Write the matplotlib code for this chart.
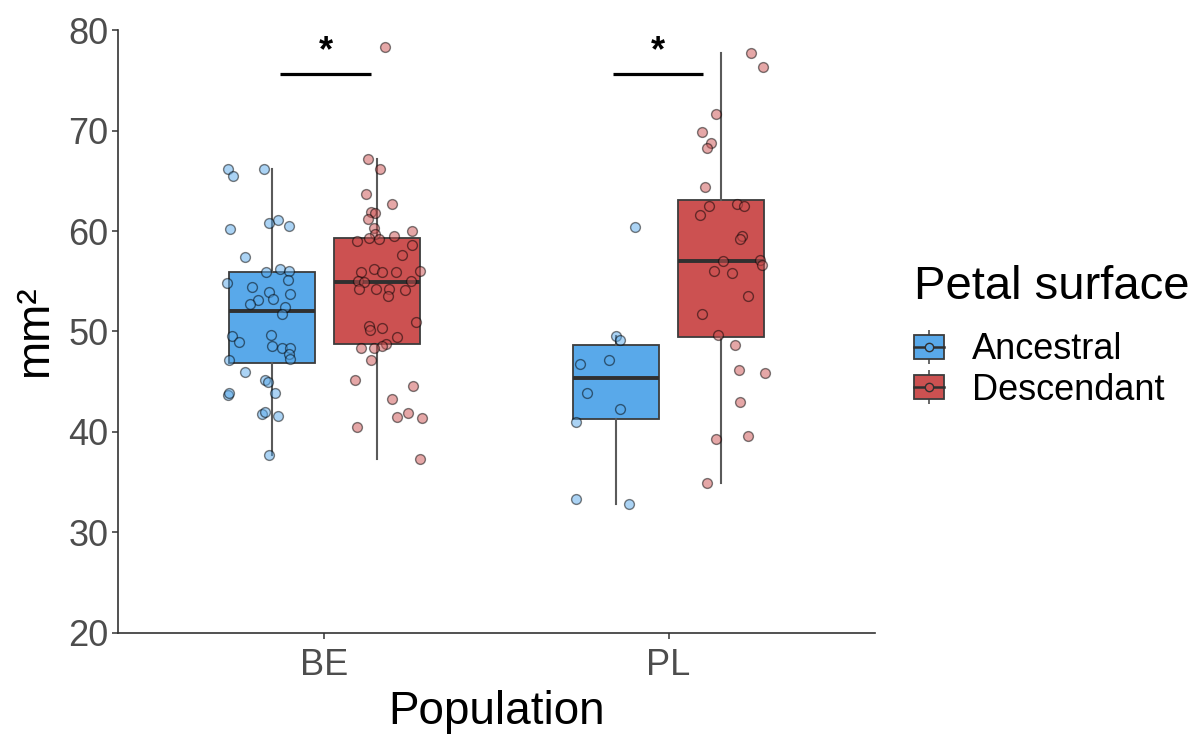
import numpy as np
import matplotlib.pyplot as plt
from matplotlib.patches import Patch
from matplotlib.lines import Line2D
from matplotlib.legend_handler import HandlerTuple

plt.rcParams['font.family'] = ['Liberation Sans', 'DejaVu Sans']

populations = ['BE', 'PL']
groups = ['Ancestral', 'Descendant']
fill_colors = {'Ancestral': '#59A9EA', 'Descendant': '#CC5151'}

# petal surface (mm2), with horizontal jitter of each point
be_anc = [66.2, 65.5, 66.2, 60.8, 61.1, 60.5, 60.2, 57.4, 55.9, 56.2,
          56.0, 55.1, 54.8, 54.4, 53.9, 53.7, 53.1, 53.2, 52.7, 52.4,
          51.7, 49.6, 49.0, 49.7, 48.6, 48.4, 48.4, 47.8, 47.3, 47.2,
          46.0, 45.2, 45.0, 43.7, 43.9, 43.9, 41.8, 42.0, 41.6, 37.7]
be_anc_jit = [-0.127, -0.115, -0.023, -0.009, 0.017, 0.048, -0.121, -0.079, -0.018, 0.023,
              0.049, 0.047, -0.131, -0.059, -0.009, 0.053, -0.040, 0.002, -0.065, 0.038,
              0.028, -0.117, -0.096, -0.003, 0.001, 0.028, 0.053, 0.049, 0.053, -0.125,
              -0.080, -0.020, -0.012, -0.128, -0.125, 0.007, -0.030, -0.022, 0.018, -0.009]

be_desc = [78.3, 67.2, 66.2, 63.7, 62.7, 61.9, 61.8, 61.2, 60.3, 60.0,
           59.5, 59.7, 59.3, 59.2, 59.0, 58.6, 57.6, 55.9, 56.2, 55.9,
           55.9, 56.0, 55.0, 54.9, 55.0, 54.2, 54.2, 54.2, 54.1, 53.5,
           50.9, 50.5, 50.1, 50.3, 49.5, 48.8, 48.6, 48.4, 48.4, 47.2,
           45.2, 44.6, 43.3, 41.5, 41.9, 41.4, 40.5, 37.3]
be_desc_jit = [0.024, -0.026, 0.010, -0.031, 0.044, -0.018, -0.005, -0.026, -0.008, 0.101,
               0.049, -0.006, -0.022, 0.007, -0.057, 0.101, 0.074, -0.047, -0.008, 0.014,
               0.055, 0.127, -0.054, -0.037, 0.100, -0.053, -0.001, 0.035, 0.081, 0.034,
               0.115, -0.022, -0.020, 0.014, 0.060, 0.026, 0.014, -0.047, -0.009, -0.017,
               -0.063, 0.106, 0.044, 0.060, 0.090, 0.131, -0.057, 0.126]

pl_anc = [60.4, 49.6, 49.2, 46.8, 47.2, 43.9, 42.3, 41.0, 33.3, 32.8]
pl_anc_jit = [0.054, 0.000, 0.012, -0.106, -0.020, -0.085, 0.011, -0.117, -0.117, 0.036]

pl_desc = [77.7, 76.3, 71.6, 69.9, 68.8, 68.3, 64.4, 62.5, 61.6, 62.7,
           62.5, 59.5, 59.2, 57.0, 57.1, 56.6, 56.0, 55.8, 53.5, 51.7,
           49.7, 48.7, 46.2, 45.9, 43.0, 39.6, 39.3, 34.9]
pl_desc_jit = [0.088, 0.123, -0.014, -0.056, -0.028, -0.040, -0.045, -0.034, -0.060, 0.047,
               0.068, 0.061, 0.057, 0.007, 0.114, 0.120, -0.021, 0.032, 0.078, -0.056,
               -0.009, 0.041, 0.052, 0.128, 0.057, 0.078, -0.014, -0.040]

series = {
    ('BE', 'Ancestral'): (be_anc, be_anc_jit),
    ('BE', 'Descendant'): (be_desc, be_desc_jit),
    ('PL', 'Ancestral'): (pl_anc, pl_anc_jit),
    ('PL', 'Descendant'): (pl_desc, pl_desc_jit),
}

# significance brackets: (x start, x end, y)
sig_bars = [(0.872, 1.136, 75.6), (1.838, 2.101, 75.6)]
sig_labels = ['*', '*']

dodge = 0.152
box_w = 0.25

fig = plt.figure(figsize=(12, 7.36), dpi=100)
ax = fig.add_axes([0.0983, 0.14, 0.6309, 0.8192])

for i, pop in enumerate(populations):
    for j, grp in enumerate(groups):
        vals, jit = series[(pop, grp)]
        pos = i + 1 + (j - 0.5) * 2 * dodge
        c = fill_colors[grp]
        ax.boxplot(vals, positions=[pos], widths=box_w, patch_artist=True,
                   showfliers=False, showcaps=False, manage_ticks=False,
                   boxprops=dict(facecolor=c, edgecolor='#3c3c3c', linewidth=1.3),
                   whiskerprops=dict(color='#5a5a5a', linewidth=1.5),
                   medianprops=dict(color='#303030', linewidth=2.8))
        ax.scatter(pos + np.array(jit), vals, s=50, facecolor=c, edgecolor='black',
                   linewidth=1.0, alpha=0.5, zorder=3)

for (x0, x1, y), lab in zip(sig_bars, sig_labels):
    ax.plot([x0, x1], [y, y], color='black', linewidth=2.3, solid_capstyle='butt')
    ax.text((x0 + x1) / 2, y + 1.3, lab, ha='center', va='baseline',
            fontsize=26, fontweight='bold')

ax.set_xlim(0.4, 2.6)
ax.set_ylim(20, 80)
ax.set_xticks([1, 2])
ax.set_xticklabels(populations)
ax.set_yticks(np.arange(20, 81, 10))

for side in ['top', 'right']:
    ax.spines[side].set_visible(False)
for side in ['left', 'bottom']:
    ax.spines[side].set_color('#333333')
    ax.spines[side].set_linewidth(1.2)
ax.tick_params(length=4, width=1.1, color='#333333', labelsize=26,
               labelcolor='#4d4d4d', pad=3)
ax.tick_params(axis='x', pad=7)

ax.set_xlabel('Population', fontsize=33, labelpad=5)
ax.set_ylabel('mm²', fontsize=33, labelpad=8)

handles = []
for grp in groups:
    c = fill_colors[grp]
    whisk = Line2D([], [], color='#5a5a5a', marker='|', markersize=24,
                   markeredgewidth=1.3, linestyle='None')
    box = Patch(facecolor=c, edgecolor='#3c3c3c', linewidth=1.3)
    mid = Line2D([], [], color='#303030', linewidth=1.8, marker='o', markersize=6,
                 markerfacecolor=c, markeredgecolor='#303030', markeredgewidth=1.0)
    handles.append((whisk, box, mid))

leg = fig.legend(handles, groups, loc='center left', bbox_to_anchor=(0.7615, 0.543),
                 frameon=False, fontsize=26, title='Petal surface', title_fontsize=34,
                 handler_map={tuple: HandlerTuple(ndivide=1, pad=0)},
                 handlelength=0.85, handleheight=0.65, handletextpad=0.75,
                 labelspacing=0.15, borderpad=0, borderaxespad=0)
leg._legend_box.align = 'left'
leg._legend_box.sep = 17

fig.savefig('out.png', dpi=100)
